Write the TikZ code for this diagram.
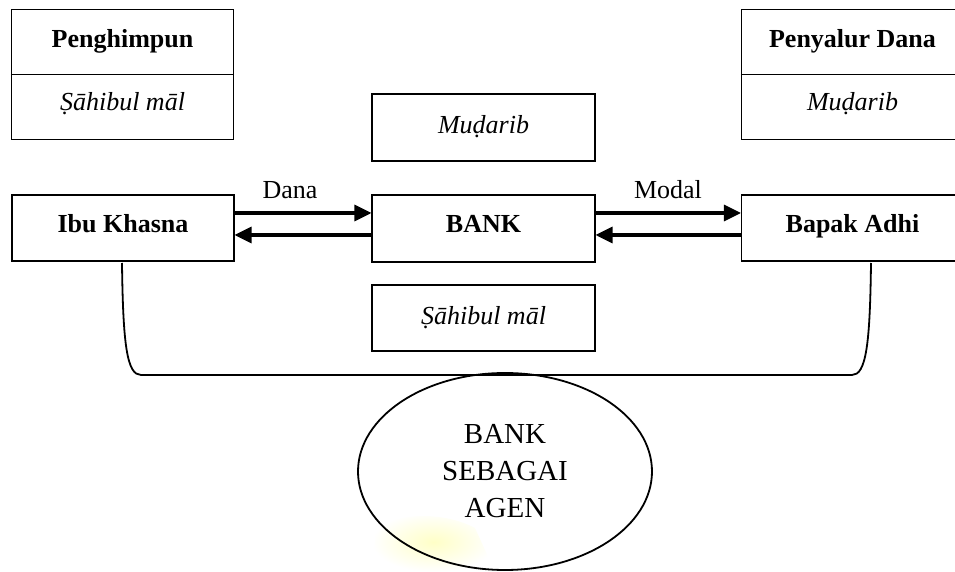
\documentclass[tikz,border=0pt]{standalone}
\usepackage{fontspec}
\setmainfont{Liberation Serif}
\usetikzlibrary{arrows.meta,shapes.geometric}
\begin{document}
\begin{tikzpicture}[x=0.5pt,y=-0.5pt,
  every node/.style={font=\fontsize{13}{15}\selectfont},
  box/.style={draw, line width=0.55pt, inner sep=0pt, minimum width=111pt, minimum height=33pt, text height=9pt, text depth=4.6pt},
  itbox/.style={box, text depth=2.8pt, font=\fontsize{13}{15}\selectfont\itshape},
  bfbox/.style={box, font=\fontsize{13}{15}\selectfont\bfseries},
  lbl/.style={inner sep=0pt},
  arr/.style={line width=1.6pt, -{Triangle[length=8.5pt,width=8pt]}},
  curve/.style={line width=0.9pt}]
\useasboundingbox (0,0) rectangle (955,572);
\clip (0,0) rectangle (955,572);
% faint watermark
\shade[inner color=yellow!22, outer color=white, draw=none]
  (372,572) -- (376,528) .. controls (400,512) and (445,512) .. (475,528) -- (495,572) -- cycle;
% top-left table
\node[box, minimum height=65pt, text height=0pt, text depth=0pt] (ph) at (122.5,74.5) {};
\draw[line width=0.55pt] (ph.west) -- (ph.east);
\node[lbl, font=\fontsize{13}{15}\selectfont\bfseries] (phA) at (122.5,41) {Penghimpun};
\node[lbl, font=\fontsize{13}{15}\selectfont\itshape] (phB) at (122.5,104) {Ṣāhibul māl};
% top-right table
\node[box, minimum height=65pt, text height=0pt, text depth=0pt] (pd) at (852.5,74.5) {};
\draw[line width=0.55pt] (pd.west) -- (pd.east);
\node[lbl, font=\fontsize{13}{15}\selectfont\bfseries] (pdA) at (852.5,41) {Penyalur Dana};
\node[lbl, font=\fontsize{13}{15}\selectfont\itshape] (pdB) at (852.5,104) {Muḍarib};
% middle column
\node[itbox, minimum width=111.5pt, minimum height=33.5pt] (mud) at (483.5,127.5) {Muḍarib};
\node[bfbox, minimum width=111.5pt, minimum height=33.5pt] (bank) at (483.5,228.5) {BANK};
\node[itbox, minimum width=111.5pt, minimum height=33pt] (sm) at (483.5,318) {Ṣāhibul māl};
% parties
\node[bfbox] (ibu) at (123,228) {Ibu Khasna};
\node[bfbox] (bapak) at (852.5,228) {Bapak Adhi};
% arrows
\draw[arr] (ibu.east |- 0,213) -- (bank.west |- 0,213);
\draw[arr] (bank.west |- 0,235) -- (ibu.east |- 0,235);
\draw[arr] (bank.east |- 0,213) -- (bapak.west |- 0,213);
\draw[arr] (bapak.west |- 0,235) -- (bank.east |- 0,235);
\node[lbl] (dana) at (290,190) {Dana};
\node[lbl] (modal) at (668,190) {Modal};
% connecting curve
\coordinate (cl) at (122,263);
\coordinate (cr) at (871,263);
\draw[curve] (cl) .. controls (123,345) and (127,375) .. (141,375) -- (852,375)
  .. controls (866,375) and (870,345) .. (cr);
% ellipse
\node[ellipse, draw, line width=0.9pt, minimum width=147pt, minimum height=98.5pt, inner sep=0pt, align=center,
  font=\fontsize{14.5}{18.5}\selectfont] (agen) at (505,471.5) {BANK\\SEBAGAI\\AGEN};
\end{tikzpicture}
\end{document}
